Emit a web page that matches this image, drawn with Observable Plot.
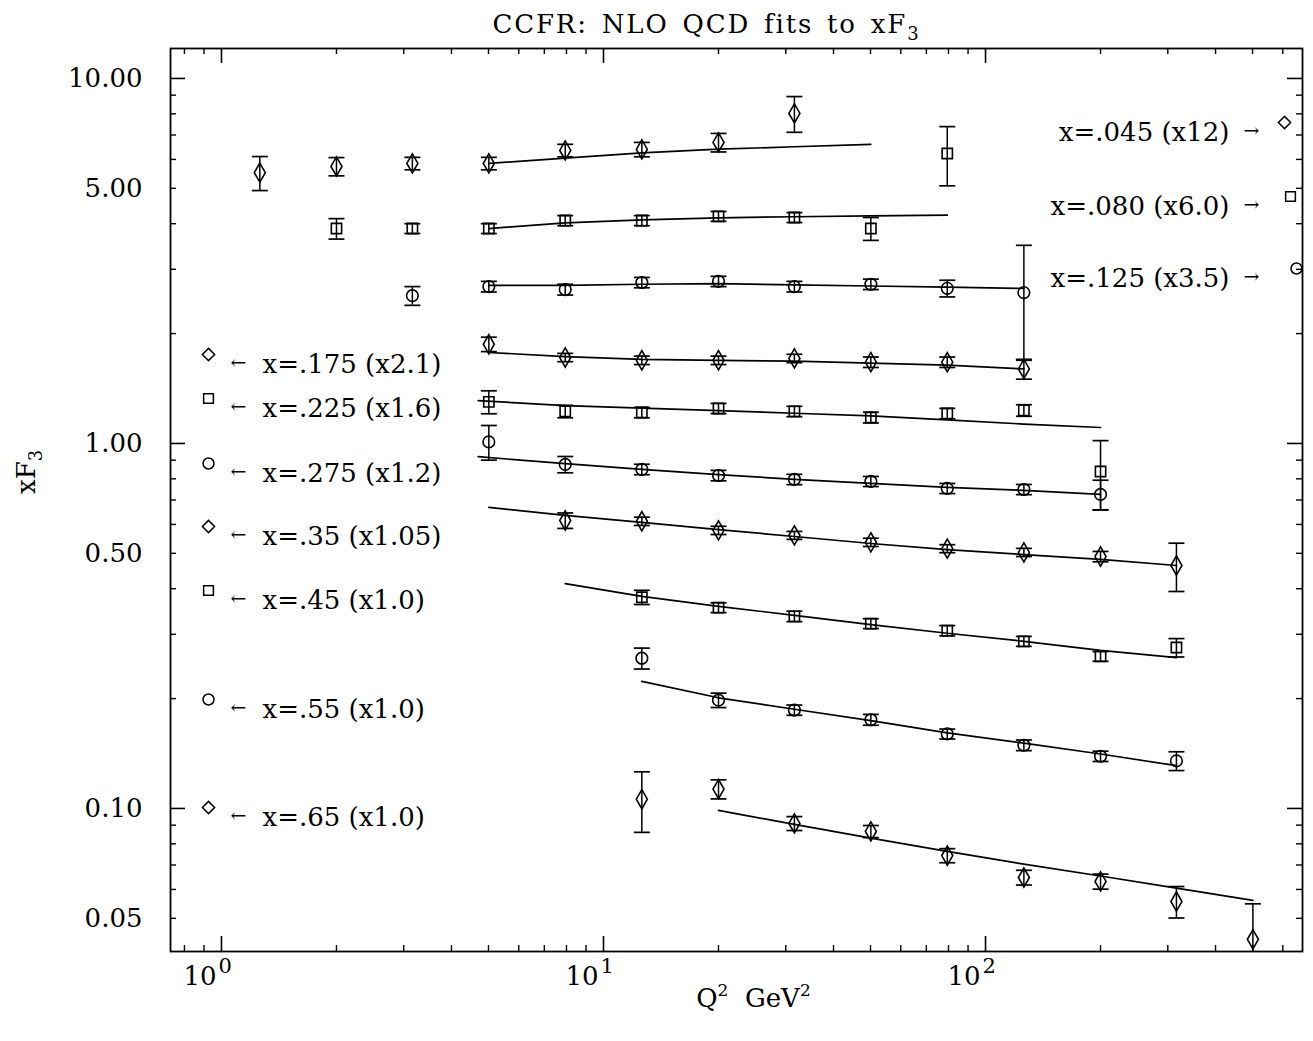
<!DOCTYPE html>
<html>
<head>
<meta charset="utf-8">
<script src="https://cdn.jsdelivr.net/npm/d3@7"></script>
<script src="https://cdn.jsdelivr.net/npm/@observablehq/plot@0.6"></script>
<style>
  body { margin: 0; background: #fff; }
  #chart { width: 1313px; height: 1041px; }
</style>
</head>
<body>
<div id="chart"></div>
<script>
// ---------------- data ----------------
// x = .045 (x12)
const q2_045 = [1.26, 2.0, 3.16, 5.01, 7.94, 12.6, 20.0, 31.6];
const f3_045 = [5.52, 5.74, 5.85, 5.85, 6.35, 6.39, 6.68, 8.02];
const err_045 = [0.59, 0.33, 0.23, 0.23, 0.25, 0.29, 0.39, 0.90];
const fitQ2_045 = [5.01, 7.94, 12.6, 20.0, 31.6, 50.1];
const fit_045 = [5.85, 6.05, 6.25, 6.40, 6.50, 6.60];
// x = .080 (x6.0)
const q2_080 = [2.0, 3.16, 5.01, 7.94, 12.6, 20.0, 31.6, 50.1, 79.4];
const f3_080 = [3.88, 3.88, 3.88, 4.08, 4.08, 4.19, 4.16, 3.88, 6.23];
const err_080 = [0.25, 0.12, 0.12, 0.13, 0.13, 0.13, 0.13, 0.28, 1.15];
const fitQ2_080 = [5.01, 7.94, 12.6, 20.0, 31.6, 50.1, 79.4];
const fit_080 = [3.88, 4.02, 4.10, 4.15, 4.18, 4.20, 4.22];
// x = .125 (x3.5)
const q2_125 = [3.16, 5.01, 7.94, 12.6, 20.0, 31.6, 50.1, 79.4, 126];
const f3_125 = [2.54, 2.69, 2.64, 2.76, 2.78, 2.69, 2.73, 2.66, 2.59];
const err_125 = [0.15, 0.09, 0.09, 0.09, 0.09, 0.09, 0.09, 0.14, 0.90];
const fitQ2_125 = [5.01, 7.94, 12.6, 20.0, 31.6, 50.1, 79.4, 126];
const fit_125 = [2.71, 2.71, 2.73, 2.74, 2.72, 2.70, 2.68, 2.66];
// x = .175 (x2.1)
const q2_175 = [5.01, 7.94, 12.6, 20.0, 31.6, 50.1, 79.4, 126];
const f3_175 = [1.87, 1.72, 1.69, 1.69, 1.71, 1.67, 1.67, 1.60];
const err_175 = [0.085, 0.045, 0.045, 0.045, 0.045, 0.055, 0.055, 0.10];
const fitQ2_175 = [5.01, 7.94, 12.6, 20.0, 31.6, 50.1, 79.4, 126];
const fit_175 = [1.775, 1.73, 1.70, 1.69, 1.68, 1.66, 1.64, 1.60];
// x = .225 (x1.6)
const q2_225 = [5.01, 7.94, 12.6, 20.0, 31.6, 50.1, 79.4, 126, 200];
const f3_225 = [1.30, 1.224, 1.216, 1.247, 1.224, 1.178, 1.208, 1.232, 0.838];
const err_225 = [0.094, 0.048, 0.04, 0.04, 0.04, 0.04, 0.04, 0.045, 0.18];
const fitQ2_225 = [4.7, 7.94, 12.6, 20.0, 31.6, 50.1, 79.4, 126, 200];
const fit_225 = [1.31, 1.27, 1.25, 1.23, 1.21, 1.19, 1.16, 1.13, 1.106];
// x = .275 (x1.2)
const q2_275 = [5.01, 7.94, 12.6, 20.0, 31.6, 50.1, 79.4, 126, 200];
const f3_275 = [1.01, 0.876, 0.849, 0.817, 0.797, 0.787, 0.753, 0.748, 0.725];
const err_275 = [0.11, 0.045, 0.028, 0.027, 0.026, 0.025, 0.024, 0.024, 0.068];
const fitQ2_275 = [4.7, 7.94, 12.6, 20.0, 31.6, 50.1, 79.4, 126, 200];
const fit_275 = [0.92, 0.88, 0.849, 0.822, 0.797, 0.777, 0.758, 0.744, 0.725];
// x = .35 (x1.05)
const q2_35 = [7.94, 12.6, 20.0, 31.6, 50.1, 79.4, 126, 200, 316];
const f3_35 = [0.615, 0.612, 0.578, 0.560, 0.536, 0.515, 0.503, 0.490, 0.463];
const err_35 = [0.03, 0.016, 0.015, 0.014, 0.014, 0.013, 0.013, 0.016, 0.07];
const fitQ2_35 = [5.01, 7.94, 12.6, 20.0, 31.6, 50.1, 79.4, 126, 200, 316];
const fit_35 = [0.668, 0.635, 0.608, 0.581, 0.556, 0.532, 0.512, 0.496, 0.481, 0.463];
// x = .45 (x1.0)
const q2_45 = [12.6, 20.0, 31.6, 50.1, 79.4, 126, 200, 316];
const f3_45 = [0.379, 0.355, 0.336, 0.321, 0.307, 0.287, 0.261, 0.276];
const err_45 = [0.017, 0.011, 0.011, 0.010, 0.010, 0.009, 0.008, 0.016];
const fitQ2_45 = [7.94, 12.6, 20.0, 31.6, 50.1, 79.4, 126, 200, 316];
const fit_45 = [0.413, 0.381, 0.358, 0.338, 0.319, 0.302, 0.287, 0.271, 0.259];
// x = .55 (x1.0)
const q2_55 = [12.6, 20.0, 31.6, 50.1, 79.4, 126, 200, 316];
const f3_55 = [0.258, 0.198, 0.186, 0.175, 0.160, 0.149, 0.139, 0.135];
const err_55 = [0.017, 0.009, 0.006, 0.006, 0.005, 0.005, 0.0045, 0.008];
const fitQ2_55 = [12.6, 20.0, 31.6, 50.1, 79.4, 126, 200, 316];
const fit_55 = [0.223, 0.201, 0.187, 0.174, 0.161, 0.151, 0.141, 0.131];
// x = .65 (x1.0)
const q2_65 = [12.6, 20.0, 31.6, 50.1, 79.4, 126, 200, 316, 501];
const f3_65 = [0.106, 0.113, 0.091, 0.0865, 0.0743, 0.0647, 0.0631, 0.0556, 0.0438];
const err_65 = [0.02, 0.0068, 0.004, 0.0033, 0.0033, 0.003, 0.003, 0.0055, 0.011];
const fitQ2_65 = [20.0, 31.6, 50.1, 79.4, 126, 200, 316, 501];
const fit_65 = [0.0988, 0.0904, 0.0829, 0.0763, 0.0704, 0.0653, 0.0605, 0.056];

// legend texts
const legendLeft = ["x=.175 (x2.1)", "x=.225 (x1.6)", "x=.275 (x1.2)", "x=.35 (x1.05)", "x=.45 (x1.0)", "x=.55 (x1.0)", "x=.65 (x1.0)"];
const legendRight = ["x=.045 (x12)", "x=.080 (x6.0)", "x=.125 (x3.5)"];

// axis ticks
const xMajorTicks = [1, 10, 100];
const xExponents = ["0", "1", "2"];
const xMinorTicks = [0.8, 0.9, 2, 3, 4, 5, 6, 7, 8, 9, 20, 30, 40, 50, 60, 70, 80, 90, 200, 300, 400, 500, 600];
const yMajorTicks = [0.1, 1, 10];
const yMinorTicks = [0.05, 0.06, 0.07, 0.08, 0.09, 0.2, 0.3, 0.4, 0.5, 0.6, 0.7, 0.8, 0.9, 2, 3, 4, 5, 6, 7, 8, 9];
const yLabelTicks = [0.05, 0.1, 0.5, 1, 5, 10];

const titleMain = "CCFR: NLO QCD fits to xF";
const titleSub = "3";
const xLabelParts = ["Q", "2", "  GeV", "2"];
const yLabelParts = ["xF", "3"];

// ---------------- build tables ----------------
const series = [
  ["045", q2_045, f3_045, err_045, fitQ2_045, fit_045],
  ["080", q2_080, f3_080, err_080, fitQ2_080, fit_080],
  ["125", q2_125, f3_125, err_125, fitQ2_125, fit_125],
  ["175", q2_175, f3_175, err_175, fitQ2_175, fit_175],
  ["225", q2_225, f3_225, err_225, fitQ2_225, fit_225],
  ["275", q2_275, f3_275, err_275, fitQ2_275, fit_275],
  ["35", q2_35, f3_35, err_35, fitQ2_35, fit_35],
  ["45", q2_45, f3_45, err_45, fitQ2_45, fit_45],
  ["55", q2_55, f3_55, err_55, fitQ2_55, fit_55],
  ["65", q2_65, f3_65, err_65, fitQ2_65, fit_65]
];
const symbolOf = {"045": "diamond", "080": "square", "125": "circle", "175": "diamond", "225": "square",
  "275": "circle", "35": "diamond", "45": "square", "55": "circle", "65": "diamond"};
const leftSyms = ["diamond2", "square", "circle", "diamond2", "square", "circle", "diamond2"];
const rightSyms = ["diamond2", "square", "circle"];

const points = series.flatMap(([s, q, v, e]) => q.map((qq, i) => ({s, q: qq, v: v[i], e: e[i]})));
const fits = series.flatMap(([s, , , , fq, fv]) => fq.map((qq, i) => ({s, q: qq, v: fv[i]})));

// ---------------- layout ----------------
const W = 1313, H = 1041;
const mL = 170, mR = 11, mT = 48, mB = 90;
const innerW = W - mL - mR, innerH = H - mT - mB;
const FONT = "DejaVu Serif";
const capSymbol = {draw(ctx, size) { const r = Math.sqrt(size / Math.PI); ctx.moveTo(-r, 0); ctx.lineTo(r, 0); }};

const leftDy = [306, 350, 415, 478, 542, 651, 759];
const rightDy = [74, 148, 220];

const marks = [
  // ticks (inward)
  Plot.tickX(xMajorTicks, {x: d => d, insetTop: innerH - 15, strokeWidth: 1.6}),
  Plot.tickX(xMajorTicks, {x: d => d, insetBottom: innerH - 15, strokeWidth: 1.6}),
  Plot.tickX(xMinorTicks, {x: d => d, insetTop: innerH - 6, strokeWidth: 1.4}),
  Plot.tickX(xMinorTicks, {x: d => d, insetBottom: innerH - 6, strokeWidth: 1.4}),
  Plot.tickY(yMajorTicks, {y: d => d, insetRight: innerW - 15, strokeWidth: 1.6}),
  Plot.tickY(yMajorTicks, {y: d => d, insetLeft: innerW - 15, strokeWidth: 1.6}),
  Plot.tickY(yMinorTicks, {y: d => d, insetRight: innerW - 6, strokeWidth: 1.4}),
  Plot.tickY(yMinorTicks, {y: d => d, insetLeft: innerW - 6, strokeWidth: 1.4}),
  Plot.frame({stroke: "black", strokeWidth: 1.8}),
  // y tick labels
  Plot.text(yLabelTicks, {y: d => d, frameAnchor: "left", text: d => d.toFixed(2), textAnchor: "end", dx: -28, fontSize: 26}),
  // x tick labels: "10" with exponent
  Plot.text(xMajorTicks, {x: d => d, frameAnchor: "bottom", text: () => "10", textAnchor: "end", dx: -5, dy: 33, fontSize: 26}),
  Plot.text(xMajorTicks, {x: d => d, frameAnchor: "bottom", text: (d, i) => xExponents[i], textAnchor: "start", dx: -3, dy: 21, fontSize: 21}),
  // fit lines
  Plot.line(fits, {x: "q", y: "v", z: "s", stroke: "black", strokeWidth: 1.7, clip: true}),
  // error bars
  Plot.ruleX(points, {x: "q", y1: d => d.v - d.e, y2: d => d.v + d.e, stroke: "black", strokeWidth: 1.5, clip: true}),
  Plot.dot(points, {x: "q", y: d => d.v + d.e, symbol: () => capSymbol, r: 8, fill: "none", stroke: "black", strokeWidth: 1.7, clip: true}),
  Plot.dot(points, {x: "q", y: d => d.v - d.e, symbol: () => capSymbol, r: 8, fill: "none", stroke: "black", strokeWidth: 1.7, clip: true}),
  // data symbols
  Plot.dot(points, {x: "q", y: "v", symbol: d => symbolOf[d.s], r: 5.8, fill: "none", stroke: "black", strokeWidth: 1.6}),
  // title and axis labels (sub/superscripts added below)
  Plot.text([titleMain], {frameAnchor: "top", text: d => d, dx: -30, dy: -34, fontSize: 26, className: "rich-title"}),
  Plot.text([xLabelParts.join("")], {frameAnchor: "bottom", text: d => d, dx: 17, dy: 55, fontSize: 26, className: "rich-xlabel"}),
  Plot.text([yLabelParts.join("")], {frameAnchor: "left", text: d => d, dx: -144, dy: -6, rotate: -90, fontSize: 26, className: "rich-ylabel"})
];

legendLeft.forEach((label, i) => {
  marks.push(Plot.dot([0], {frameAnchor: "top-left", dx: 38, dy: leftDy[i], symbol: leftSyms[i], r: 5.5, fill: "none", stroke: "black", strokeWidth: 1.5}));
  marks.push(Plot.text(["\u2190"], {frameAnchor: "top-left", text: d => d, dx: 68, dy: leftDy[i] + 1, fontSize: 19, textAnchor: "middle"}));
  marks.push(Plot.text([label], {frameAnchor: "top-left", text: d => d, dx: 92, dy: leftDy[i], fontSize: 26, textAnchor: "start"}));
});
legendRight.forEach((label, i) => {
  marks.push(Plot.dot([0], {frameAnchor: "top-right", dx: -18 + i * 6, dy: rightDy[i], symbol: rightSyms[i], r: 5.5, fill: "none", stroke: "black", strokeWidth: 1.5}));
  marks.push(Plot.text(["\u2192"], {frameAnchor: "top-right", text: d => d, dx: -51, dy: rightDy[i] + 1, fontSize: 19, textAnchor: "middle"}));
  marks.push(Plot.text([label], {frameAnchor: "top-right", text: d => d, dx: -73, dy: rightDy[i], fontSize: 26, textAnchor: "end"}));
});

const chart = Plot.plot({
  width: W,
  height: H,
  marginLeft: mL,
  marginRight: mR,
  marginTop: mT,
  marginBottom: mB,
  style: {fontFamily: FONT, fontSize: "26px", color: "black", background: "white", overflow: "visible"},
  x: {type: "log", domain: [0.7355, 675.6], axis: null},
  y: {type: "log", domain: [0.04056, 12.08], axis: null},
  marks
});
document.getElementById("chart").appendChild(chart);

// rich text: subscripts / superscripts via tspans
function rich(cls, parts) {
  d3.select(chart).selectAll(`g.${cls} text`).each(function() {
    const t = d3.select(this);
    t.text(null);
    parts.forEach(p => {
      const s = t.append("tspan").text(p.t);
      if (p.dy) s.attr("dy", p.dy);
      if (p.size) s.attr("font-size", p.size);
    });
  });
}
rich("rich-title", [{t: titleMain}, {t: titleSub, dy: 7, size: 18}]);
d3.select(chart).selectAll("g.rich-title text").attr("letter-spacing", "1.8px").attr("word-spacing", "4px");
rich("rich-xlabel", [{t: xLabelParts[0]}, {t: xLabelParts[1], dy: -11, size: 17}, {t: xLabelParts[2], dy: 11}, {t: xLabelParts[3], dy: -11, size: 17}]);
rich("rich-ylabel", [{t: yLabelParts[0]}, {t: yLabelParts[1], dy: 7, size: 18}]);
</script>
</body>
</html>
